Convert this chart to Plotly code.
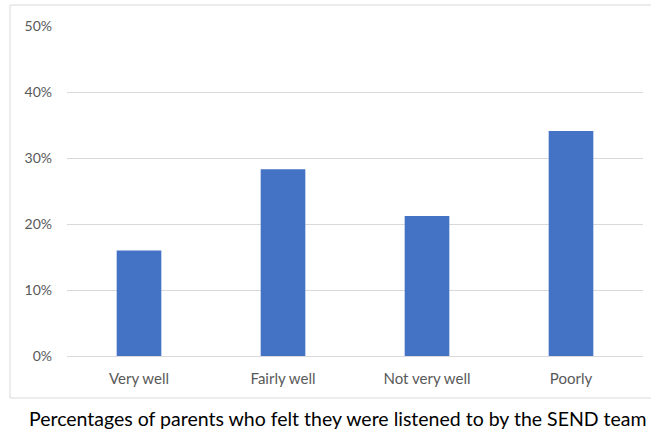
import plotly.graph_objects as go

categories = ["Very well", "Fairly well", "Not very well", "Poorly"]
values = [0.160, 0.283, 0.212, 0.341]
tick_vals = [0, 0.1, 0.2, 0.3, 0.4, 0.5]
tick_text = ["0%", "10%", "20%", "30%", "40%", "50%"]
caption = "Percentages of parents who felt they were listened to by the SEND team"

W, H = 651, 432
L, R, T, B = 67, 8, 26, 76

fig = go.Figure(go.Bar(
    x=categories, y=values,
    marker=dict(color="#4472C4", line=dict(width=0)),
    width=0.31,
))

fig.update_layout(
    width=W, height=H,
    margin=dict(l=L, r=R, t=T, b=B),
    paper_bgcolor="white", plot_bgcolor="white",
    showlegend=False,
    font=dict(family="Lato, Open Sans, sans-serif", color="#595959", size=12),
    xaxis=dict(showgrid=False, showline=False, ticks="", ticklabelstandoff=12,
               tickfont=dict(size=15, color="#595959")),
    yaxis=dict(range=[0, 0.5], tickvals=tick_vals, ticktext=tick_text,
               showgrid=True, gridcolor="#D9D9D9", gridwidth=1,
               zeroline=True, zerolinecolor="#D9D9D9", zerolinewidth=1,
               showline=False, ticks="", ticklabelstandoff=14,
               tickfont=dict(size=14, color="#595959")),
)

pw = W - L - R
ph = H - T - B
def px_x(p):
    return (p - L) / pw
def px_y(p):
    return 1 - (p - T) / ph

fig.add_shape(type="rect", xref="paper", yref="paper",
              x0=px_x(10), x1=px_x(660), y0=px_y(398), y1=px_y(5),
              line=dict(color="#D9D9D9", width=1), fillcolor="rgba(0,0,0,0)", layer="below")

fig.add_annotation(text=caption, xref="paper", yref="paper",
                   x=px_x(338), y=px_y(418), xanchor="center", yanchor="middle",
                   showarrow=False, font=dict(size=19.5, color="#000000", family="Lato, Open Sans, sans-serif"))

fig.write_html("out.html")
